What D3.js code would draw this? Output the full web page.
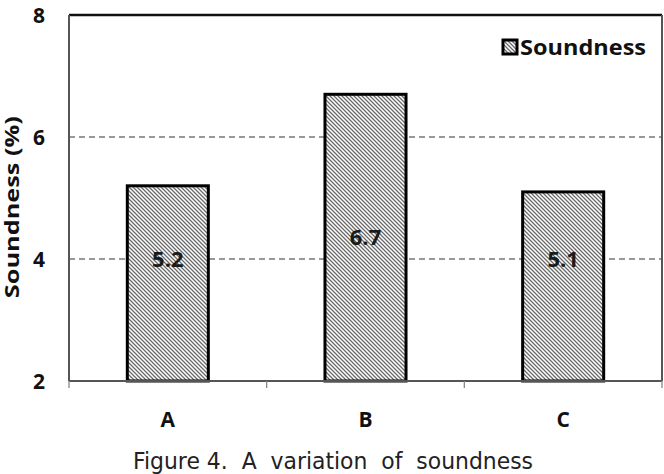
<!DOCTYPE html>
<html>
<head>
<meta charset="utf-8">
<script src="https://cdn.jsdelivr.net/npm/d3@7"></script>
<style>
  body { margin: 0; background: #fff; }
  svg { display: block; }
  .tick-label { font-family: "Open Sans", Lato, "DejaVu Sans", sans-serif; font-weight: 700; fill: #111; }
  .caption { font-family: "DejaVu Sans", sans-serif; fill: #222; }
</style>
</head>
<body>
<div id="chart"></div>
<script>
const categories = ['A', 'B', 'C'];
const soundness = [5.2, 6.7, 5.1];
const yTicks = [2, 4, 6, 8];
const gridTicks = [4, 6];
const seriesName = 'Soundness';
const yTitle = 'Soundness (%)';
const caption = 'Figure 4.  A  variation  of  soundness';

const config = {
  width: 664,
  height: 474,
  margin: { top: 15, right: 2, bottom: 93, left: 69 }
};

const innerW = config.width - config.margin.left - config.margin.right;
const innerH = config.height - config.margin.top - config.margin.bottom;

const svg = d3.select('#chart').append('svg')
  .attr('width', config.width)
  .attr('height', config.height);

// diagonal hatch like the excel fill
const defs = svg.append('defs');
const pat = defs.append('pattern')
  .attr('id', 'hatch')
  .attr('patternUnits', 'userSpaceOnUse')
  .attr('width', 4)
  .attr('height', 4);
pat.append('rect').attr('width', 4).attr('height', 4).attr('fill', '#fff');
pat.append('path')
  .attr('d', 'M-1,-1 L5,5 M-1,3 L1,5 M3,-1 L5,1')
  .attr('stroke', '#6a6a6a')
  .attr('stroke-width', 1.3);

const g = svg.append('g')
  .attr('transform', `translate(${config.margin.left},${config.margin.top})`);

const xScale = d3.scaleBand()
  .domain(categories)
  .range([0, innerW])
  .padding(0);

const yScale = d3.scaleLinear()
  .domain([2, 8])
  .range([innerH, 0]);

const barW = xScale.bandwidth() * 0.41;

// dashed grid
g.selectAll('.grid-line')
  .data(gridTicks)
  .enter().append('line')
  .attr('class', 'grid-line')
  .attr('x1', 0)
  .attr('x2', innerW)
  .attr('y1', d => yScale(d))
  .attr('y2', d => yScale(d))
  .attr('stroke', '#777')
  .attr('stroke-width', 1.4)
  .attr('stroke-dasharray', '6,4');

// plot frame
g.append('line').attr('x1', 0).attr('x2', innerW).attr('y1', 0).attr('y2', 0)
  .attr('stroke', '#111').attr('stroke-width', 2.5);
g.append('line').attr('x1', 0).attr('x2', 0).attr('y1', 0).attr('y2', innerH)
  .attr('stroke', '#555').attr('stroke-width', 2);
g.append('line').attr('x1', innerW).attr('x2', innerW).attr('y1', 0).attr('y2', innerH)
  .attr('stroke', '#555').attr('stroke-width', 2);

// bars
g.selectAll('.bar')
  .data(soundness)
  .enter().append('rect')
  .attr('class', 'bar')
  .attr('x', (d, i) => xScale(categories[i]) + (xScale.bandwidth() - barW) / 2)
  .attr('y', d => yScale(d))
  .attr('width', barW)
  .attr('height', d => innerH - yScale(d))
  .attr('fill', 'url(#hatch)')
  .attr('stroke', '#000')
  .attr('stroke-width', 3);

// value labels
g.selectAll('.val')
  .data(soundness)
  .enter().append('text')
  .attr('class', 'tick-label val')
  .attr('x', (d, i) => xScale(categories[i]) + xScale.bandwidth() / 2)
  .attr('y', d => Math.min((yScale(d) + innerH) / 2, yScale(4)))
  .attr('dy', '0.35em')
  .attr('text-anchor', 'middle')
  .style('font-size', '22px')
  .style('fill', '#1a1a1a')
  .text(d => d.toFixed(1));

// x axis
const xAxis = g.append('g')
  .attr('transform', `translate(0,${innerH})`);
xAxis.append('line').attr('x1', 0).attr('x2', innerW)
  .attr('stroke', '#555').attr('stroke-width', 2);
xAxis.selectAll('.xtick')
  .data(d3.range(categories.length + 1))
  .enter().append('line')
  .attr('x1', i => i * xScale.step())
  .attr('x2', i => i * xScale.step())
  .attr('y1', 0)
  .attr('y2', 7)
  .attr('stroke', '#888')
  .attr('stroke-width', 1.3);
xAxis.selectAll('.xlab')
  .data(categories)
  .enter().append('text')
  .attr('class', 'tick-label')
  .attr('x', d => xScale(d) + xScale.bandwidth() / 2)
  .attr('y', 46)
  .attr('text-anchor', 'middle')
  .style('font-size', '21px')
  .text(d => d);

// y tick labels
g.selectAll('.ylab')
  .data(yTicks)
  .enter().append('text')
  .attr('class', 'tick-label')
  .attr('x', -24)
  .attr('y', d => yScale(d))
  .attr('dy', '0.36em')
  .attr('text-anchor', 'end')
  .style('font-size', '21px')
  .text(d => d);

// y title
svg.append('text')
  .attr('class', 'tick-label')
  .attr('transform', `translate(19,${config.margin.top + yScale(4.85)}) rotate(-90)`)
  .attr('text-anchor', 'middle')
  .attr('textLength', 182)
  .attr('lengthAdjust', 'spacingAndGlyphs')
  .style('font-size', '19px')
  .text(yTitle);

// legend
const legend = svg.append('g')
  .attr('transform', 'translate(503,40)');
legend.append('rect')
  .attr('width', 14)
  .attr('height', 14)
  .attr('fill', 'url(#hatch)')
  .attr('stroke', '#000')
  .attr('stroke-width', 3);
legend.append('text')
  .attr('class', 'tick-label')
  .attr('x', 17)
  .attr('y', 7)
  .attr('dy', '0.36em')
  .attr('textLength', 126)
  .attr('lengthAdjust', 'spacingAndGlyphs')
  .style('font-size', '21px')
  .text(seriesName);

// caption
svg.append('text')
  .attr('class', 'caption')
  .attr('x', 133)
  .attr('y', 469)
  .attr('textLength', 400)
  .attr('lengthAdjust', 'spacingAndGlyphs')
  .style('font-size', '23px')
  .style('white-space', 'pre')
  .text(caption);
</script>
</body>
</html>
